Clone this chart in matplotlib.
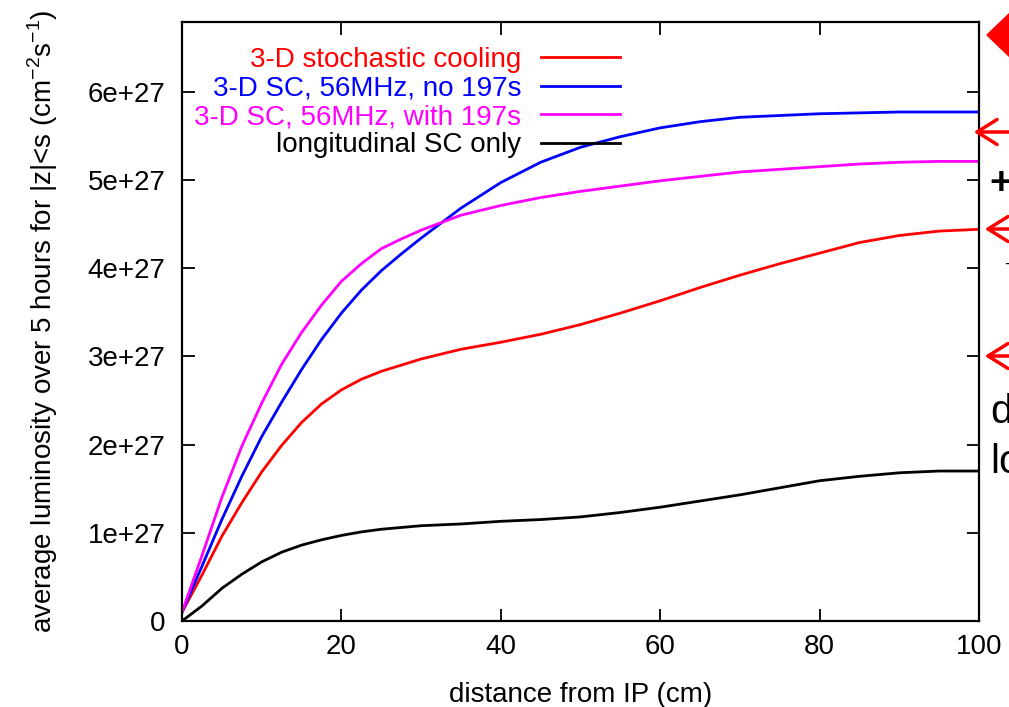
import numpy as np
import matplotlib
matplotlib.use("Agg")
import matplotlib.pyplot as plt
from matplotlib.patches import Polygon, FancyArrowPatch

plt.rcParams['font.family'] = ['Liberation Sans', 'DejaVu Sans']

# --- data (luminosity in units of 1e27 cm^-2 s^-1) ---
dist = [0, 2.5, 5, 7.5, 10, 12.5, 15, 17.5, 20, 22.5, 25, 27.5, 30, 35, 40,
        45, 50, 55, 60, 65, 70, 75, 80, 85, 90, 95, 100]
lum_3d_sc = [0.10, 0.52, 0.96, 1.34, 1.69, 1.99, 2.25, 2.46, 2.62, 2.74, 2.83, 2.90, 2.97,
             3.08, 3.16, 3.25, 3.36, 3.49, 3.63, 3.78, 3.92, 4.05, 4.17, 4.29, 4.37, 4.42, 4.44]
lum_56_no197 = [0.10, 0.62, 1.15, 1.64, 2.09, 2.48, 2.85, 3.19, 3.49, 3.75, 3.97, 4.16, 4.34,
                4.68, 4.97, 5.20, 5.37, 5.49, 5.59, 5.66, 5.71, 5.73, 5.75, 5.76, 5.77, 5.77, 5.77]
lum_56_with197 = [0.10, 0.74, 1.40, 1.98, 2.47, 2.91, 3.27, 3.58, 3.85, 4.05, 4.22, 4.33, 4.43,
                  4.60, 4.71, 4.80, 4.87, 4.93, 4.99, 5.04, 5.09, 5.12, 5.15, 5.18, 5.20, 5.21, 5.21]
lum_long_only = [0.00, 0.17, 0.37, 0.53, 0.67, 0.78, 0.86, 0.92, 0.97, 1.01, 1.04, 1.06, 1.08,
                 1.10, 1.13, 1.15, 1.18, 1.23, 1.29, 1.36, 1.43, 1.51, 1.59, 1.64, 1.68, 1.70, 1.70]

labels = ['3-D stochastic cooling', '3-D SC, 56MHz, no 197s',
          '3-D SC, 56MHz, with 197s', 'longitudinal SC only']
colors = ['#ff0000', '#0000ff', '#ff00ff', '#000000']

yticks = [0, 1, 2, 3, 4, 5, 6]
ytick_labels = ['0', '1e+27', '2e+27', '3e+27', '4e+27', '5e+27', '6e+27']
xticks = [0, 20, 40, 60, 80, 100]

W, H = 1009, 707
fig = plt.figure(figsize=(W / 100, H / 100), dpi=100)
ax = fig.add_axes([182 / W, 1 - 621 / H, 797 / W, 599 / H])

series = [lum_3d_sc, lum_56_no197, lum_56_with197, lum_long_only]
for y, lab, c in zip(series, labels, colors):
    ax.plot(dist, y, color=c, lw=2.0, label=lab)

ax.set_xlim(0, 100)
ax.set_ylim(0, 6.79)
ax.set_xticks(xticks)
ax.set_yticks(yticks)
ax.set_yticklabels(ytick_labels)
ax.tick_params(direction='in', length=9, width=1.3, top=True, right=True,
               labelsize=20, pad=12)
ax.tick_params(axis='x', pad=9)
for s in ax.spines.values():
    s.set_linewidth(1.6)

ax.set_xlabel('distance from IP (cm)', fontsize=20, labelpad=16)
ax.set_ylabel(r'average luminosity over 5 hours for |z|<s (cm$^{\mathregular{-2}}$s$^{\mathregular{-1}}$)',
              fontsize=20, labelpad=20)

leg = ax.legend(loc='upper right', bbox_to_anchor=((620 - 182) / 797, (621 - 47) / 599),
                frameon=False, markerfirst=False, fontsize=20, handlelength=2.85,
                handletextpad=0.7, labelspacing=0.09, borderpad=0, borderaxespad=0)
for txt, c in zip(leg.get_texts(), colors):
    txt.set_color(c)


# --- fragments of the surrounding slide (right edge) ---
def fx(px):
    return px / W


def fy(py):
    return 1 - py / H


fig.patches.append(Polygon([(fx(987), fy(35)), (fx(1012), fy(11)), (fx(1037), fy(35)),
                            (fx(1012), fy(59))], closed=True, color='#ff0000',
                           transform=fig.transFigure, figure=fig))
for tip_x, tip_y in [(971, 132), (982, 229), (982, 356)]:
    fig.add_artist(FancyArrowPatch(
        (fx(1012), fy(tip_y)), (fx(tip_x), fy(tip_y)), transform=fig.transFigure,
        arrowstyle='->,head_length=0.8,head_width=0.5', mutation_scale=18,
        color='#ff0000', lw=2.5))
fig.text(fx(989), fy(184), '+', fontsize=28, fontweight='bold', va='center', ha='left')
fig.text(fx(1004), fy(264), '-', fontsize=14, va='center', ha='left')
fig.text(fx(990), fy(412), 'd', fontsize=29, va='center', ha='left')
fig.text(fx(990), fy(462), 'lo', fontsize=29, va='center', ha='left')

fig.savefig('out.png', dpi=100)
